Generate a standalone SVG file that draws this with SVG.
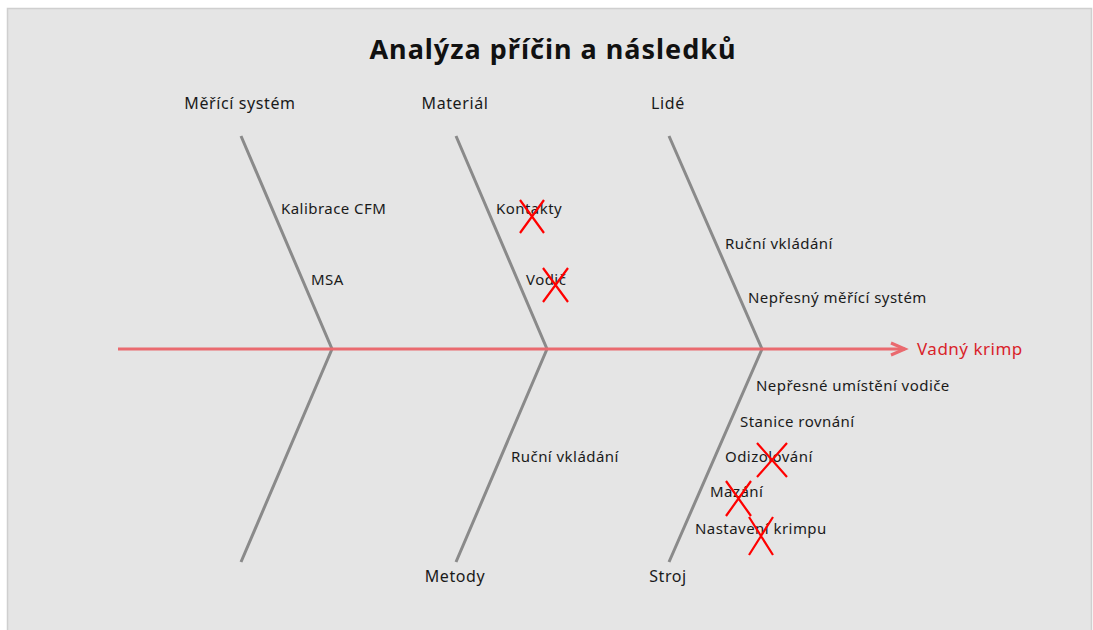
<svg xmlns="http://www.w3.org/2000/svg" width="1093" height="630" viewBox="0 0 1093 630">
<style>
.bone{stroke:#8a8a8a;stroke-width:3;fill:none;stroke-linecap:butt}
.spine{stroke:#ea6a6f;stroke-width:3;fill:none}
.cat{font-family:"Noto Sans","Open Sans",sans-serif;font-size:16px;letter-spacing:0.6px;fill:#1a1a1a;text-anchor:middle}
.cause{font-family:"Noto Sans","Open Sans",sans-serif;font-size:15px;letter-spacing:0.45px;fill:#1a1a1a}
.title{font-family:"Noto Sans","Open Sans",sans-serif;font-size:27px;letter-spacing:1px;font-weight:bold;fill:#111;text-anchor:middle}
.eff{font-family:"Noto Sans","Open Sans",sans-serif;font-size:17px;letter-spacing:0.5px;fill:#d9232a}
.x{stroke:#ff0000;stroke-width:2.2;fill:none}
</style>
<rect x="0" y="0" width="1093" height="630" fill="#ffffff"/>
<rect x="7.5" y="8.5" width="1084" height="630" fill="#e5e5e5" stroke="#cfcfcf" stroke-width="1.5"/>
<text class="title" x="553" y="59">Analýza příčin a následků</text>
<g id="connectors">
<polyline class="bone" points="241,136 332,349 241,562"/>
<polyline class="bone" points="456,136 547,349 456,562"/>
<polyline class="bone" points="669,136 762,349 669,562"/>
<line class="spine" x1="118" y1="349" x2="905" y2="349"/>
<polyline class="spine" points="891,343 905,349 891,355"/>
</g>
<g id="effect"><text class="eff" x="917" y="355">Vadný krimp</text></g>
<g id="cat-meric"><text class="cat" x="240" y="109">Měřící systém</text></g>
<g id="cat-material"><text class="cat" x="455" y="109">Materiál</text></g>
<g id="cat-lide"><text class="cat" x="668" y="109">Lidé</text></g>
<g id="cat-metody"><text class="cat" x="455" y="582">Metody</text></g>
<g id="cat-stroj"><text class="cat" x="668" y="582">Stroj</text></g>
<g id="c-kalibrace"><text class="cause" x="281" y="214">Kalibrace CFM</text></g>
<g id="c-msa"><text class="cause" x="311" y="285">MSA</text></g>
<g id="c-kontakty"><text class="cause" x="496" y="214">Kontakty</text><path class="x" d="M520,200 L544,233 M544,200 L520,233"/></g>
<g id="c-vodic"><text class="cause" x="526" y="285">Vodič</text><path class="x" d="M543,268 L568,302 M568,268 L543,302"/></g>
<g id="c-rucni1"><text class="cause" x="725" y="249">Ruční vkládání</text></g>
<g id="c-nepresny"><text class="cause" x="748" y="303">Nepřesný měřící systém</text></g>
<g id="c-umisteni"><text class="cause" x="756" y="391">Nepřesné umístění vodiče</text></g>
<g id="c-stanice"><text class="cause" x="740" y="427">Stanice rovnání</text></g>
<g id="c-odizolovani"><text class="cause" x="725" y="462">Odizolování</text><path class="x" d="M757,443 L787,477 M787,443 L757,477"/></g>
<g id="c-mazani"><text class="cause" x="710" y="497">Mazání</text><path class="x" d="M726,481 L751,516 M751,481 L726,516"/></g>
<g id="c-nastaveni"><text class="cause" x="695" y="534">Nastavení krimpu</text><path class="x" d="M749,517 L773,555 M773,517 L749,555"/></g>
<g id="c-rucni2"><text class="cause" x="511" y="462">Ruční vkládání</text></g>
</svg>
